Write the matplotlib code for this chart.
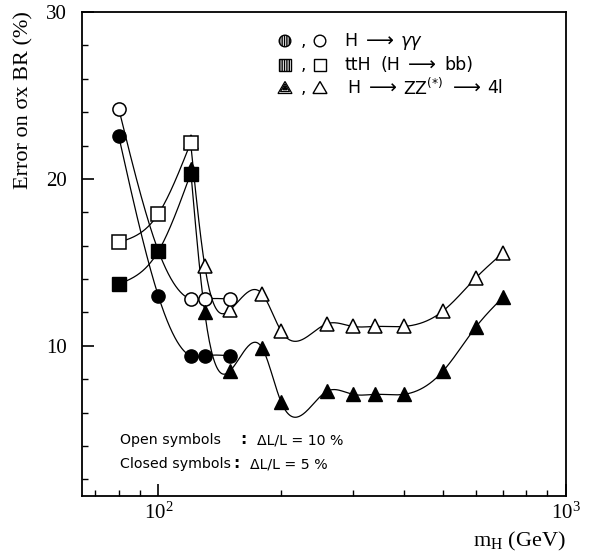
import numpy as np
import matplotlib
matplotlib.use('Agg')
import matplotlib.pyplot as plt
from matplotlib.patches import Circle, Rectangle, Polygon
from matplotlib.ticker import FixedLocator, FixedFormatter, NullFormatter, LogLocator

plt.rcParams['font.family'] = ['Liberation Serif', 'DejaVu Serif']
plt.rcParams['mathtext.default'] = 'regular'

# H -> gamma gamma
mass_gg = [80, 100, 120, 130, 150]
gg_open = [24.2, 15.7, 12.8, 12.8, 12.8]
gg_closed = [22.55, 13.0, 9.4, 9.4, 9.4]

# ttH (H -> bb)
mass_tth = [80, 100, 120]
tth_open = [16.2, 17.9, 22.15]
tth_closed = [13.7, 15.66, 20.3]

# H -> ZZ(*) -> 4l
mass_zz = [120, 130, 150, 180, 200, 260, 300, 340, 400, 500, 600, 700]
zz_open = [22.2, 14.8, 12.15, 13.1, 10.9, 11.33, 11.16, 11.16, 11.16, 12.1, 14.05, 15.56]
zz_closed = [20.6, 12.0, 8.5, 9.85, 6.65, 7.29, 7.09, 7.09, 7.09, 8.5, 11.1, 12.9]

# legend labels, split in pieces so the wide spacing of the original can be kept
legend_labels = [
    ['H', '⟶', 'γγ'],
    ['ttH', '(H', '⟶', 'bb)'],
    ['H', '⟶', 'ZZ$^{(*)}$', '⟶', '4l'],
]
note_labels = [['Open symbols', ':', 'ΔL/L = 10 %'], ['Closed symbols', ':', 'ΔL/L = 5 %']]

W, H = 595, 560


def smooth_curve(x, y, n=300):
    """Natural cubic spline through the points, done in log10(x)"""
    t = np.log10(np.asarray(x, float))
    y = np.asarray(y, float)
    k = len(t)
    h = np.diff(t)
    A = np.zeros((k, k))
    b = np.zeros(k)
    A[0, 0] = A[-1, -1] = 1
    for i in range(1, k - 1):
        A[i, i - 1] = h[i - 1]
        A[i, i] = 2 * (h[i - 1] + h[i])
        A[i, i + 1] = h[i]
        b[i] = 6 * ((y[i + 1] - y[i]) / h[i] - (y[i] - y[i - 1]) / h[i - 1])
    M = np.linalg.solve(A, b)
    ts = np.linspace(t[0], t[-1], n)
    idx = np.clip(np.searchsorted(t, ts) - 1, 0, k - 2)
    t0, t1 = t[idx], t[idx + 1]
    hh = t1 - t0
    a = (t1 - ts) / hh
    c = (ts - t0) / hh
    ys = a * y[idx] + c * y[idx + 1] + ((a**3 - a) * M[idx] + (c**3 - c) * M[idx + 1]) * hh**2 / 6
    return 10**ts, ys


def fx(px):
    return px / W


def fy(py):
    return 1 - py / H


def inch(px, py):
    return (px / 100, (H - py) / 100)


fig = plt.figure(figsize=(W / 100, H / 100), dpi=100)
ax = fig.add_axes([fx(82), fy(496), (566 - 82) / W, (496 - 12) / H])

# curves
for m, v in [(mass_gg, gg_open), (mass_gg, gg_closed), (mass_tth, tth_open),
             (mass_tth, tth_closed), (mass_zz, zz_open), (mass_zz, zz_closed)]:
    xs, ys = smooth_curve(m, v)
    ax.plot(xs, ys, color='black', lw=0.9, zorder=2)

ms = 9.5
open_kw = dict(ls='none', mfc='white', mec='black', mew=1.1, ms=ms)
closed_kw = dict(ls='none', mfc='black', mec='black', mew=1.0, ms=ms)

ax.plot(mass_zz, zz_open, marker='^', zorder=3, **open_kw)
ax.plot(mass_gg, gg_open, marker='o', zorder=3, **open_kw)
ax.plot(mass_tth, tth_open, marker='s', zorder=3, **open_kw)
ax.plot(mass_zz, zz_closed, marker='^', zorder=4, **closed_kw)
ax.plot(mass_gg, gg_closed, marker='o', zorder=4, **closed_kw)
ax.plot(mass_tth, tth_closed, marker='s', zorder=4, **closed_kw)

ax.set_xscale('log')
ax.set_xlim(65, 1000)
ax.set_ylim(1, 30)
ax.xaxis.set_major_locator(FixedLocator([100, 1000]))
ax.xaxis.set_major_formatter(FixedFormatter(['$10^{2}$', '$10^{3}$']))
ax.xaxis.set_minor_locator(LogLocator(base=10, subs=np.arange(2, 10)))
ax.xaxis.set_minor_formatter(NullFormatter())
ax.set_yticks([10, 20, 30])
ax.set_yticks(np.arange(2, 30, 2), minor=True)

ax.tick_params(which='both', direction='in', top=False, right=False)
ax.tick_params(which='major', length=8.5, width=1.2, labelsize=15)
ax.tick_params(which='minor', length=4.2, width=1.0)
ax.tick_params(axis='y', pad=11)
ax.tick_params(axis='x', pad=5)
for sp in ax.spines.values():
    sp.set_linewidth(1.3)

fig.text(fx(24), fy(100), 'Error on σx BR (%)', rotation=90, ha='center', va='center', fontsize=16)
fig.text(fx(566), fy(546), '$m_H$ (GeV)', ha='right', va='baseline', fontsize=16)

# legend block
tr = fig.dpi_scale_trans
rows = [41, 65, 88]
sx, ox = 285, 320
hatch = '|||||||'

fig.add_artist(Circle(inch(sx, rows[0]), 0.058, transform=tr, fc='white', ec='black', lw=1, hatch=hatch))
fig.add_artist(Circle(inch(ox, rows[0]), 0.058, transform=tr, fc='white', ec='black', lw=1))

for cx, hh in [(sx, hatch), (ox, None)]:
    fig.add_artist(Rectangle(inch(cx - 6, rows[1] + 6), 0.12, 0.12, transform=tr,
                             fc='white', ec='black', lw=1, hatch=hh))

for scale, fill in [(1.0, 'white'), (0.65, 'white'), (0.32, 'black')]:
    pts = [inch(sx, rows[2] - 6.5 * scale), inch(sx - 7 * scale, rows[2] + 5.5 * scale),
           inch(sx + 7 * scale, rows[2] + 5.5 * scale)]
    fig.add_artist(Polygon(pts, closed=True, transform=tr, fc=fill, ec='black', lw=0.9))
pts = [inch(ox, rows[2] - 6.5), inch(ox - 7, rows[2] + 5.5), inch(ox + 7, rows[2] + 5.5)]
fig.add_artist(Polygon(pts, closed=True, transform=tr, fc='white', ec='black', lw=1))

piece_x = [[344, 366, 401], [344, 381, 408, 444], [347, 369, 403, 453, 487]]
for ry, pieces, xs_ in zip(rows, legend_labels, piece_x):
    fig.text(fx(303), fy(ry + 5), ',', ha='center', va='baseline', fontsize=12, family='DejaVu Sans')
    for p, px in zip(pieces, xs_):
        style = 'italic' if p == 'γγ' else 'normal'
        size = 14 if p == '⟶' else 12.5
        fig.text(fx(px), fy(ry), p, ha='left', va='center', fontsize=size,
                 family='DejaVu Sans', style=style)

# luminosity note
note_rows = [440, 464]
colon_x = [243, 236]
for ry, (lab, colon, val), cx in zip(note_rows, note_labels, colon_x):
    fig.text(fx(120), fy(ry), lab, ha='left', va='center', fontsize=10.2, family='DejaVu Sans')
    fig.text(fx(cx), fy(ry), colon, ha='center', va='center', fontsize=11, weight='bold', family='DejaVu Sans')
    fig.text(fx(cx + 14), fy(ry), val, ha='left', va='center', fontsize=10.2, family='DejaVu Sans')

fig.savefig('out.png', dpi=100)
